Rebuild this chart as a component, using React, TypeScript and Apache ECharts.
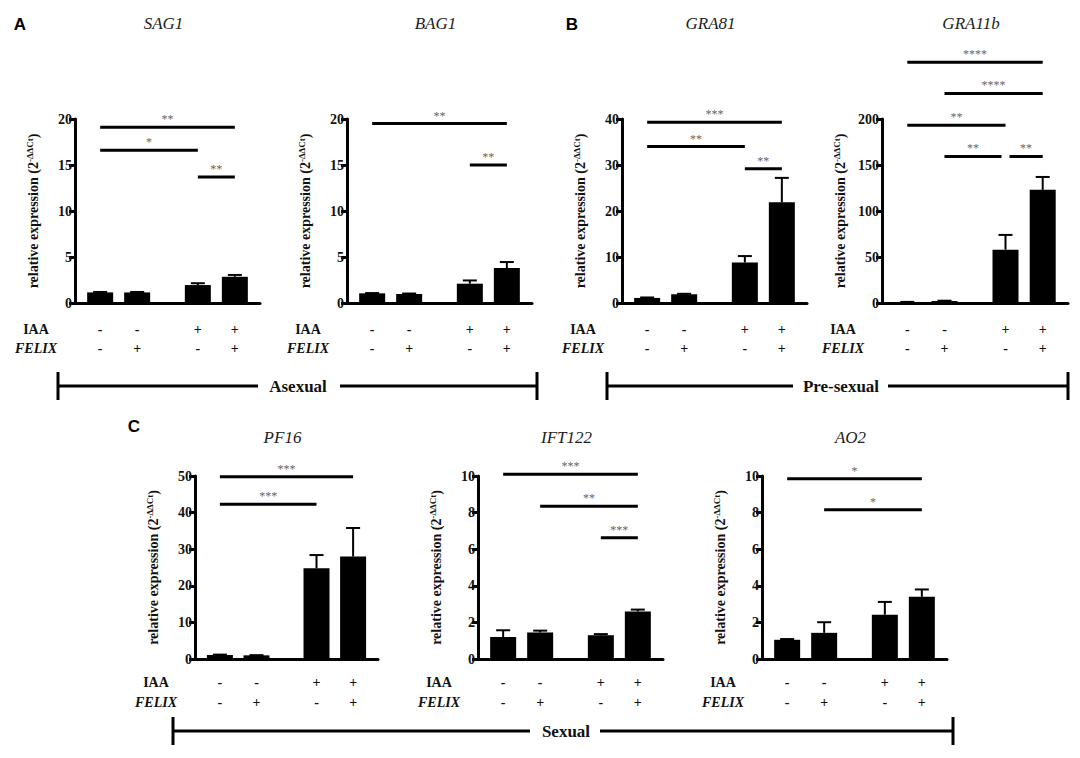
import React, { useEffect, useRef } from "react";
import * as echarts from "echarts";

// Bar slots on a 0..5 x-scale: two controls, a gap, two IAA-treated groups
const slots = [0.68, 1.68, 3.32, 4.32];
const iaaSigns = ["-", "-", "+", "+"];
const felixSigns = ["-", "+", "-", "+"];

const genes = ["SAG1", "BAG1", "GRA81", "GRA11b", "PF16", "IFT122", "AO2"];

// mean relative expression (2^-ΔΔCt) and upper SD per condition
const sag1Mean = [1.15, 1.15, 1.95, 2.85];
const sag1Err = [0.05, 0.05, 0.2, 0.2];
const bag1Mean = [1.05, 0.98, 2.1, 3.8];
const bag1Err = [0.03, 0.05, 0.35, 0.65];
const gra81Mean = [1.1, 1.9, 8.8, 21.9];
const gra81Err = [0.1, 0.1, 1.4, 5.3];
const gra11bMean = [1.0, 2.2, 58, 123];
const gra11bErr = [0.2, 0.3, 16, 14];
const pf16Mean = [1.1, 1.0, 24.8, 28];
const pf16Err = [0.1, 0.05, 3.6, 7.8];
const ift122Mean = [1.2, 1.45, 1.3, 2.6];
const ift122Err = [0.37, 0.1, 0.06, 0.1];
const ao2Mean = [1.05, 1.43, 2.42, 3.4];
const ao2Err = [0.04, 0.58, 0.7, 0.4];

// y-axis ranges
const yMax = [20, 20, 40, 200, 50, 10, 10];
const yStep = [5, 5, 10, 50, 10, 2, 2];

// significance comparisons: bar index pair, bracket height (data units), stars
type Sig = { from: number; to: number; y: number; label: string };
const sag1Sig: Sig[] = [
  { from: 0, to: 3, y: 19.1, label: "**" },
  { from: 0, to: 2, y: 16.6, label: "*" },
  { from: 2, to: 3, y: 13.7, label: "**" },
];
const bag1Sig: Sig[] = [
  { from: 0, to: 3, y: 19.5, label: "**" },
  { from: 2, to: 3, y: 15.0, label: "**" },
];
const gra81Sig: Sig[] = [
  { from: 0, to: 3, y: 39.3, label: "***" },
  { from: 0, to: 2, y: 34.0, label: "**" },
  { from: 2, to: 3, y: 29.2, label: "**" },
];
const gra11bSig: Sig[] = [
  { from: 0, to: 3, y: 261.6, label: "****" },
  { from: 1, to: 3, y: 227.8, label: "****" },
  { from: 0, to: 2, y: 193.2, label: "**" },
  { from: 1, to: 2, y: 159.3, label: "**" },
  { from: 2, to: 3, y: 159.3, label: "**" },
];
const pf16Sig: Sig[] = [
  { from: 0, to: 3, y: 49.8, label: "***" },
  { from: 0, to: 2, y: 42.3, label: "***" },
];
const ift122Sig: Sig[] = [
  { from: 0, to: 3, y: 10.1, label: "***" },
  { from: 1, to: 3, y: 8.35, label: "**" },
  { from: 2, to: 3, y: 6.62, label: "***" },
];
const ao2Sig: Sig[] = [
  { from: 0, to: 3, y: 9.85, label: "*" },
  { from: 1, to: 3, y: 8.16, label: "*" },
];

const means = [sag1Mean, bag1Mean, gra81Mean, gra11bMean, pf16Mean, ift122Mean, ao2Mean];
const errs = [sag1Err, bag1Err, gra81Err, gra11bErr, pf16Err, ift122Err, ao2Err];
const sigs = [sag1Sig, bag1Sig, gra81Sig, gra11bSig, pf16Sig, ift122Sig, ao2Sig];

const SERIF = "Liberation Serif, DejaVu Serif, serif";
const SANS = "Liberation Sans, DejaVu Sans, sans-serif";

// panel placement: [left, top, width, height, signRow1Offset, signRow2Offset]
const layout = [
  [75, 119, 185, 184, 26, 45],
  [347, 119, 185, 184, 26, 45],
  [622, 119, 185, 184, 26, 45],
  [882, 119, 186, 184, 26, 45],
  [195, 476, 183, 183, 23, 43],
  [478, 476, 185, 183, 23, 43],
  [762, 476, 185, 183, 23, 43],
];

function txt(x: number, y: number, text: string, size: number, weight: string, fill: string, style = "normal", family = SERIF) {
  return {
    type: "text",
    x,
    y,
    style: {
      text,
      fill,
      fontFamily: family,
      fontSize: size,
      fontWeight: weight,
      fontStyle: style,
      align: "center",
      verticalAlign: "middle",
    },
  };
}

function buildOption() {
  const grid: any[] = [];
  const xAxis: any[] = [];
  const yAxis: any[] = [];
  const series: any[] = [];
  const graphic: any[] = [];

  layout.forEach(([left, top, w, h, o1, o2], i) => {
    grid.push({ left, top, width: w, height: h, containLabel: false });
    xAxis.push({
      type: "value",
      gridIndex: i,
      min: 0,
      max: 5,
      axisLine: { show: true, onZero: false, lineStyle: { color: "#000", width: 3 } },
      axisTick: { show: false },
      axisLabel: { show: false },
      splitLine: { show: false },
    });
    yAxis.push({
      type: "value",
      gridIndex: i,
      min: 0,
      max: yMax[i],
      interval: yStep[i],
      name: "{a|relative expression (2}{s|-ΔΔCt}{a|)}",
      nameLocation: "middle",
      nameGap: 34,
      nameTextStyle: {
        fontFamily: SERIF,
        rich: {
          a: { fontFamily: SERIF, fontWeight: "bold", fontSize: 14, color: "#111", lineHeight: 16 },
          s: { fontFamily: SERIF, fontWeight: "bold", fontSize: 9, color: "#111", verticalAlign: "top", lineHeight: 16 },
        },
      },
      axisLine: { show: true, lineStyle: { color: "#000", width: 3 } },
      axisTick: { show: true, length: 6, lineStyle: { color: "#000", width: 3 } },
      axisLabel: { fontFamily: SERIF, fontWeight: "bold", fontSize: 14, color: "#111", margin: 3 },
      splitLine: { show: false },
    });

    series.push({
      type: "bar",
      xAxisIndex: i,
      yAxisIndex: i,
      barWidth: 26,
      itemStyle: { color: "#000" },
      data: means[i].map((v, j) => [slots[j], v]),
    });

    // upper SD whiskers
    series.push({
      type: "custom",
      xAxisIndex: i,
      yAxisIndex: i,
      encode: { x: 0, y: 1 },
      data: means[i].map((v, j) => [slots[j], v, errs[i][j]]),
      renderItem: (_p: any, api: any) => {
        const x = api.value(0);
        const m = api.value(1);
        const e = api.value(2);
        const b = api.coord([x, m]);
        const t = api.coord([x, m + e]);
        return {
          type: "group",
          children: [
            { type: "line", shape: { x1: b[0], y1: b[1], x2: t[0], y2: t[1] }, style: { stroke: "#000", lineWidth: 2 } },
            { type: "line", shape: { x1: t[0] - 7, y1: t[1], x2: t[0] + 7, y2: t[1] }, style: { stroke: "#000", lineWidth: 2 } },
          ],
        };
      },
    });

    // significance brackets with stars
    const list = sigs[i];
    series.push({
      type: "custom",
      xAxisIndex: i,
      yAxisIndex: i,
      clip: false,
      encode: { x: 0, y: 1 },
      data: list.map((s) => [slots[s.from], s.y]),
      renderItem: (p: any, api: any) => {
        const s = list[p.dataIndex];
        const a = api.coord([slots[s.from], s.y]);
        const b = api.coord([slots[s.to], s.y]);
        const shareL = list.some((o) => o !== s && o.y === s.y && o.to === s.from);
        const shareR = list.some((o) => o !== s && o.y === s.y && o.from === s.to);
        const x1 = a[0] + (shareL ? 4 : 0);
        const x2 = b[0] - (shareR ? 4 : 0);
        return {
          type: "group",
          children: [
            { type: "line", shape: { x1, y1: a[1], x2, y2: a[1] }, style: { stroke: "#000", lineWidth: 3 } },
            txt((x1 + x2) / 2, a[1] - 8, s.label, 12, "normal", "#666"),
          ],
        };
      },
    });

    // treatment +/- rows beneath the bars
    series.push({
      type: "custom",
      xAxisIndex: i,
      yAxisIndex: i,
      clip: false,
      encode: { x: 0, y: 1 },
      data: slots.map((s) => [s, 0]),
      renderItem: (p: any, api: any) => {
        const c = api.coord([api.value(0), 0]);
        const k = p.dataIndex;
        return {
          type: "group",
          children: [
            txt(c[0], c[1] + o1, iaaSigns[k], 14, "bold", "#111"),
            txt(c[0], c[1] + o2, felixSigns[k], 14, "bold", "#111"),
          ],
        };
      },
    });

    // gene title and row labels
    graphic.push(txt(left + w / 2 - 4, i < 4 ? 23 : 437, genes[i], 17, "normal", "#222", "italic"));
    graphic.push(txt(left - 39, top + h + o1, "IAA", 14, "bold", "#111"));
    graphic.push(txt(left - 39, top + h + o2, "FELIX", 14, "bold", "#111", "italic"));
  });

  // panel letters
  graphic.push(txt(20, 24, "A", 17, "bold", "#000", "normal", SANS));
  graphic.push(txt(572, 24, "B", 17, "bold", "#000", "normal", SANS));
  graphic.push(txt(134, 426, "C", 17, "bold", "#000", "normal", SANS));

  // developmental stage brackets
  const stages: [string, number, number, number, number, number, number][] = [
    ["Asexual", 58, 537, 386, 298, 258, 340],
    ["Pre-sexual", 607, 1068, 386, 841, 793, 888],
    ["Sexual", 173, 953, 731, 566, 530, 600],
  ];
  stages.forEach(([t, l, r, y, cx, gl, gr]) => {
    graphic.push({ type: "line", shape: { x1: l, y1: y, x2: gl, y2: y }, style: { stroke: "#000", lineWidth: 3 } });
    graphic.push({ type: "line", shape: { x1: gr, y1: y, x2: r, y2: y }, style: { stroke: "#000", lineWidth: 3 } });
    graphic.push({ type: "line", shape: { x1: l, y1: y - 14, x2: l, y2: y + 14 }, style: { stroke: "#000", lineWidth: 3 } });
    graphic.push({ type: "line", shape: { x1: r, y1: y - 14, x2: r, y2: y + 14 }, style: { stroke: "#000", lineWidth: 3 } });
    graphic.push(txt(cx, y, t, 17, "bold", "#111"));
  });

  return {
    animation: false,
    backgroundColor: "#fff",
    grid,
    xAxis,
    yAxis,
    series,
    graphic,
  };
}

export default function App() {
  const ref = useRef<HTMLDivElement>(null);
  useEffect(() => {
    if (!ref.current) return;
    const chart = echarts.init(ref.current, undefined, { renderer: "svg" });
    chart.setOption(buildOption() as any);
    return () => chart.dispose();
  }, []);
  return (
    <div
      ref={ref}
      style={{ position: "absolute", left: 0, top: 0, width: 1080, height: 758, background: "#fff" }}
    />
  );
}
